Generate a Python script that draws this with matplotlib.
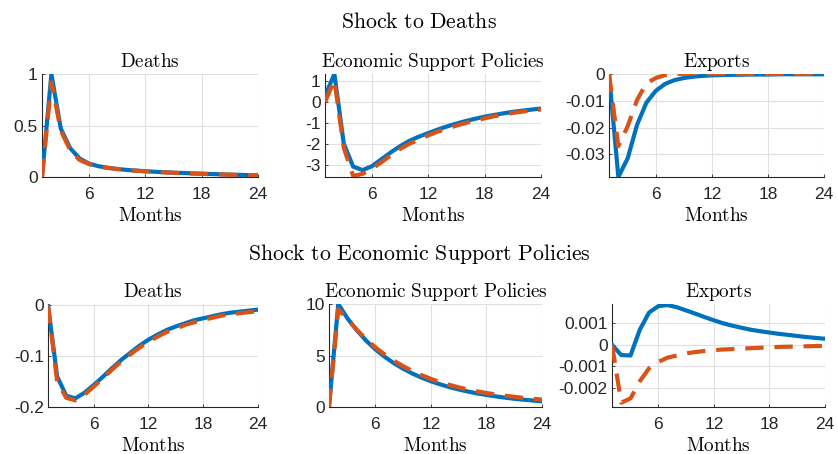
import numpy as np
import matplotlib
matplotlib.use("Agg")
from matplotlib import pyplot as plt
from matplotlib.ticker import FixedLocator, FuncFormatter

plt.rcParams['mathtext.fontset'] = 'cm'
plt.rcParams['axes.unicode_minus'] = False

months = np.arange(1, 25)

# Shock to Deaths
deaths_deaths_blue = [0, 1.0, 0.47, 0.28, 0.18, 0.13, 0.105, 0.09, 0.078, 0.069, 0.062, 0.056,
                      0.051, 0.046, 0.042, 0.039, 0.035, 0.032, 0.029, 0.026, 0.023, 0.021, 0.018, 0.016]
deaths_deaths_red = [0, 0.92, 0.45, 0.26, 0.165, 0.125, 0.1, 0.088, 0.077, 0.068, 0.061, 0.055,
                     0.05, 0.045, 0.041, 0.037, 0.034, 0.031, 0.028, 0.025, 0.022, 0.02, 0.018, 0.016]
deaths_esp_blue = [0.3, 1.35, -2.0, -3.1, -3.27, -3.08, -2.75, -2.42, -2.12, -1.86, -1.66, -1.49,
                   -1.32, -1.17, -1.03, -0.91, -0.8, -0.7, -0.62, -0.54, -0.47, -0.41, -0.36, -0.31]
deaths_esp_red = [0, 1.05, -2.2, -3.55, -3.45, -3.2, -2.9, -2.55, -2.25, -2.0, -1.8, -1.6,
                  -1.42, -1.27, -1.13, -1.0, -0.89, -0.78, -0.68, -0.6, -0.52, -0.46, -0.4, -0.36]
deaths_exp_blue = [0, -0.0385, -0.0315, -0.019, -0.0107, -0.0063, -0.0037, -0.0023, -0.0015, -0.001,
                   -0.0007, -0.0005, -0.0004, -0.0003, -0.0003, -0.0002, -0.0002, -0.0002, -0.0001,
                   -0.0001, -0.0001, -0.0001, -0.0001, -0.0001]
deaths_exp_red = [0, -0.027, -0.0195, -0.0097, -0.0035, -0.0015, -0.0004, 0.0, 0.0001, 0.0001,
                  0.0001, 0.0001, 0.0001, 0.0001, 0.0, 0.0, 0.0, 0.0, 0.0, 0.0, 0.0, 0.0, 0.0, 0.0]

# Shock to Economic Support Policies
esp_deaths_blue = [0, -0.14, -0.178, -0.183, -0.172, -0.157, -0.141, -0.124, -0.108, -0.094, -0.08, -0.068,
                   -0.058, -0.049, -0.042, -0.036, -0.03, -0.026, -0.022, -0.018, -0.015, -0.013, -0.011, -0.009]
esp_deaths_red = [0, -0.15, -0.182, -0.187, -0.176, -0.16, -0.144, -0.127, -0.111, -0.097, -0.084, -0.072,
                  -0.062, -0.053, -0.046, -0.039, -0.034, -0.029, -0.025, -0.021, -0.018, -0.016, -0.014, -0.012]
esp_esp_blue = [0, 10, 8.6, 7.45, 6.45, 5.6, 4.88, 4.25, 3.72, 3.25, 2.85, 2.5,
                2.2, 1.93, 1.7, 1.5, 1.32, 1.17, 1.03, 0.91, 0.8, 0.71, 0.63, 0.55]
esp_esp_red = [0, 9.5, 8.5, 7.5, 6.6, 5.8, 5.1, 4.5, 3.97, 3.5, 3.09, 2.73,
               2.42, 2.15, 1.91, 1.7, 1.52, 1.36, 1.22, 1.1, 0.99, 0.89, 0.8, 0.72]
esp_exp_blue = [0, -0.00048, -0.0005, 0.0007, 0.0015, 0.0018, 0.00185, 0.00175, 0.0016, 0.00145, 0.00129, 0.00114,
                0.001, 0.00089, 0.00079, 0.0007, 0.00063, 0.00057, 0.00051, 0.00046, 0.00041, 0.00036, 0.00032, 0.00028]
esp_exp_red = [0, -0.0027, -0.0025, -0.0017, -0.0011, -0.0008, -0.0006, -0.0005, -0.0004, -0.00034, -0.00029, -0.00025,
               -0.00022, -0.0002, -0.00018, -0.00016, -0.00014, -0.00012, -0.0001, -0.00009, -0.00008, -0.00007,
               -0.00006, -0.00005]

panel_titles = ["Deaths", "Economic Support Policies", "Exports"]
row_titles = ["Shock to Deaths", "Shock to Economic Support Policies"]
x_ticks = [6, 12, 18, 24]

panels = [
    # (blue, red, ylim, yticks, [left, bottom, width, height] in pixels)
    (deaths_deaths_blue, deaths_deaths_red, (0, 1.0), [0, 0.5, 1], (42, 177, 216, 103)),
    (deaths_esp_blue, deaths_esp_red, (-3.6, 1.35), [-3, -2, -1, 0, 1], (325, 177, 216, 103)),
    (deaths_exp_blue, deaths_exp_red, (-0.0385, 0.0), [-0.03, -0.02, -0.01, 0], (609, 177, 215, 103)),
    (esp_deaths_blue, esp_deaths_red, (-0.2, 0.002), [-0.2, -0.1, 0], (48, 407, 210, 103)),
    (esp_esp_blue, esp_esp_red, (0, 10), [0, 5, 10], (329, 407, 213, 103)),
    (esp_exp_blue, esp_exp_red, (-0.0029, 0.0019), [-0.002, -0.001, 0, 0.001], (612, 407, 213, 103)),
]

W, H = 838, 454
fig = plt.figure(figsize=(W / 100, H / 100), dpi=100)

blue = '#0072BD'
red = '#D95319'
tick_color = '#262626'

for i, (b, r, ylim, yticks, (px, py, pw, ph)) in enumerate(panels):
    ax = fig.add_axes([px / W, 1 - py / H, pw / W, ph / H])
    ax.plot(months, b, color=blue, lw=3.0, solid_joinstyle='round', zorder=3)
    ax.plot(months, r, color=red, lw=3.0, dashes=(4.4, 2.6), zorder=4)
    ax.set_xlim(1, 24)
    ax.set_ylim(*ylim)
    ax.xaxis.set_major_locator(FixedLocator(x_ticks))
    ax.yaxis.set_major_locator(FixedLocator(yticks))
    ax.yaxis.set_major_formatter(FuncFormatter(lambda v, p: '%g' % round(v, 6)))
    ax.grid(True, color='#e0e0e0', lw=0.8, zorder=0)
    ax.set_axisbelow(True)
    for s in ['top', 'right']:
        ax.spines[s].set_visible(False)
    for s in ['left', 'bottom']:
        ax.spines[s].set_color(tick_color)
        ax.spines[s].set_linewidth(0.8)
    ax.tick_params(direction='in', length=2.5, width=0.6, colors=tick_color,
                   labelsize=12.5, pad=3)
    ax.tick_params(axis='x', pad=7.5)
    for lab in ax.get_xticklabels() + ax.get_yticklabels():
        lab.set_family('Liberation Sans')
    ax.set_title(r'$\mathrm{%s}$' % panel_titles[i % 3].replace(' ', r'\ '), fontsize=13.8, pad=5)
    ax.set_xlabel(r'$\mathrm{Months}$', fontsize=13.8, labelpad=2.5)

fig.text(0.5, 1 - 22 / H, r'$\mathrm{Shock\ to\ Deaths}$', ha='center', va='center', fontsize=15.7)
fig.text(0.5, 1 - 254 / H, r'$\mathrm{Shock\ to\ Economic\ Support\ Policies}$',
         ha='center', va='center', fontsize=15.7)

fig.savefig('out.png', dpi=100)
